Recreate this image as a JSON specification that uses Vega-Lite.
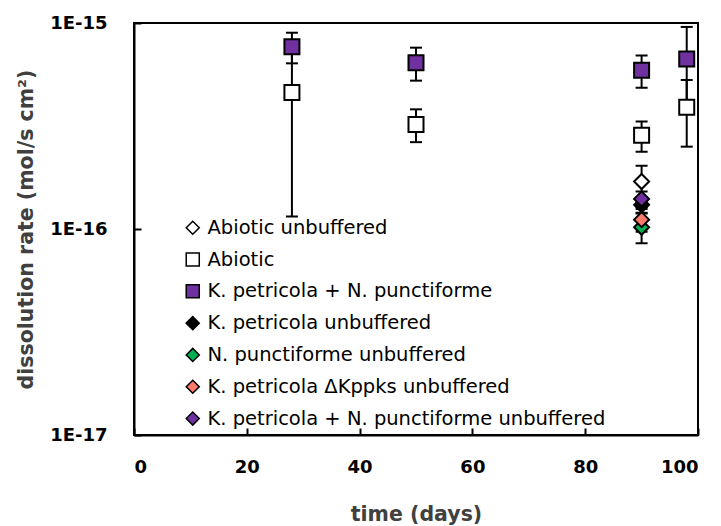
{
  "$schema": "https://vega.github.io/schema/vega-lite/v6.json",
  "autosize": {"type": "none"},
  "padding": {"left": 134, "top": 23, "right": 23, "bottom": 91},
  "width": 564,
  "height": 412,
  "config": {
    "view": {"stroke": "black", "strokeWidth": 2},
    "font": "DejaVu Sans",
    "axis": {"grid": false, "domainColor": "black", "domainWidth": 2, "tickColor": "black", "tickWidth": 2, "labelColor": "black", "titleColor": "#404040", "labelFont": "DejaVu Sans", "titleFont": "DejaVu Sans", "labelFontWeight": "bold", "titleFontWeight": "bold", "labelFontSize": 18, "titleFontSize": 20.5}
  },
  "data": {"values": [
    {"series": "Abiotic unbuffered", "time": 90, "rate": 1.70e-16, "lo": 1.35e-16, "hi": 2.03e-16},
    {"series": "Abiotic", "time": 28, "rate": 4.6e-16, "lo": 1.15e-16, "hi": 8.05e-16},
    {"series": "Abiotic", "time": 50, "rate": 3.22e-16, "lo": 2.64e-16, "hi": 3.81e-16},
    {"series": "Abiotic", "time": 90, "rate": 2.85e-16, "lo": 2.37e-16, "hi": 3.33e-16},
    {"series": "Abiotic", "time": 98, "rate": 3.9e-16, "lo": 2.51e-16, "hi": 5.29e-16},
    {"series": "K. petricola + N. punctiforme", "time": 28, "rate": 7.67e-16, "lo": 6.37e-16, "hi": 8.97e-16},
    {"series": "K. petricola + N. punctiforme", "time": 50, "rate": 6.41e-16, "lo": 5.25e-16, "hi": 7.59e-16},
    {"series": "K. petricola + N. punctiforme", "time": 90, "rate": 5.9e-16, "lo": 4.85e-16, "hi": 6.95e-16},
    {"series": "K. petricola + N. punctiforme", "time": 98, "rate": 6.68e-16, "lo": 3.78e-16, "hi": 9.57e-16},
    {"series": "K. petricola unbuffered", "time": 90, "rate": 1.31e-16, "lo": 1.2e-16, "hi": 1.42e-16},
    {"series": "N. punctiforme unbuffered", "time": 90, "rate": 1.02e-16, "lo": 8.53e-17, "hi": 1.19e-16},
    {"series": "K. petricola ΔKppks unbuffered", "time": 90, "rate": 1.11e-16, "lo": 9.7e-17, "hi": 1.25e-16},
    {"series": "K. petricola + N. punctiforme unbuffered", "time": 90, "rate": 1.40e-16, "lo": 1.28e-16, "hi": 1.52e-16}
  ]},
  "encoding": {
    "x": {"field": "time", "type": "quantitative", "scale": {"domain": [0, 100], "nice": false}, "axis": {"values": [0, 20, 40, 60, 80, 100], "tickSize": -7, "labelPadding": 30, "title": "time (days)", "titlePadding": 28}}
  },
  "layer": [
    {
      "mark": {"type": "rule", "color": "black", "strokeWidth": 2},
      "encoding": {
        "y": {"field": "lo", "type": "quantitative", "scale": {"type": "log", "domain": [1e-17, 1e-15], "nice": false}, "axis": {"values": [1e-17, 1e-16, 1e-15], "tickSize": -7, "labelPadding": 34, "labelExpr": "'1E' + round(log(datum.value)/LN10)", "title": "dissolution rate (mol/s cm²)", "titlePadding": 13}},
        "y2": {"field": "hi"}
      }
    },
    {
      "mark": {"type": "tick", "orient": "horizontal", "color": "black", "thickness": 2, "size": 12, "opacity": 1},
      "encoding": {"y": {"field": "lo", "type": "quantitative"}}
    },
    {
      "mark": {"type": "tick", "orient": "horizontal", "color": "black", "thickness": 2, "size": 12, "opacity": 1},
      "encoding": {"y": {"field": "hi", "type": "quantitative"}}
    },
    {
      "mark": {"type": "point", "filled": true, "stroke": "black", "strokeWidth": 2, "opacity": 1, "size": 225},
      "encoding": {
        "y": {"field": "rate", "type": "quantitative"},
        "shape": {"field": "series", "type": "nominal", "scale": {"domain": ["Abiotic unbuffered", "Abiotic", "K. petricola + N. punctiforme", "K. petricola unbuffered", "N. punctiforme unbuffered", "K. petricola ΔKppks unbuffered", "K. petricola + N. punctiforme unbuffered"], "range": ["diamond", "square", "square", "diamond", "diamond", "diamond", "diamond"]}, "legend": {"orient": "none", "legendX": 49, "legendY": 195, "title": null, "labelFont": "DejaVu Sans", "labelFontSize": 19.5, "labelColor": "black", "labelLimit": 0, "symbolSize": 170, "rowPadding": 10.8, "labelOffset": 5, "padding": 0, "symbolOpacity": 1, "encode": {"symbols": {"update": {"stroke": {"value": "black"}, "strokeWidth": {"value": 2}}}}}},
        "fill": {"field": "series", "type": "nominal", "scale": {"domain": ["Abiotic unbuffered", "Abiotic", "K. petricola + N. punctiforme", "K. petricola unbuffered", "N. punctiforme unbuffered", "K. petricola ΔKppks unbuffered", "K. petricola + N. punctiforme unbuffered"], "range": ["white", "white", "#7030A0", "black", "#00B050", "#FF7C6A", "#7030A0"]}, "legend": {"orient": "none", "legendX": 49, "legendY": 195, "title": null, "labelFont": "DejaVu Sans", "labelFontSize": 19.5, "labelColor": "black", "labelLimit": 0, "symbolSize": 170, "rowPadding": 10.8, "labelOffset": 5, "padding": 0, "symbolOpacity": 1, "encode": {"symbols": {"update": {"stroke": {"value": "black"}, "strokeWidth": {"value": 2}}}}}}
      }
    }
  ]
}
